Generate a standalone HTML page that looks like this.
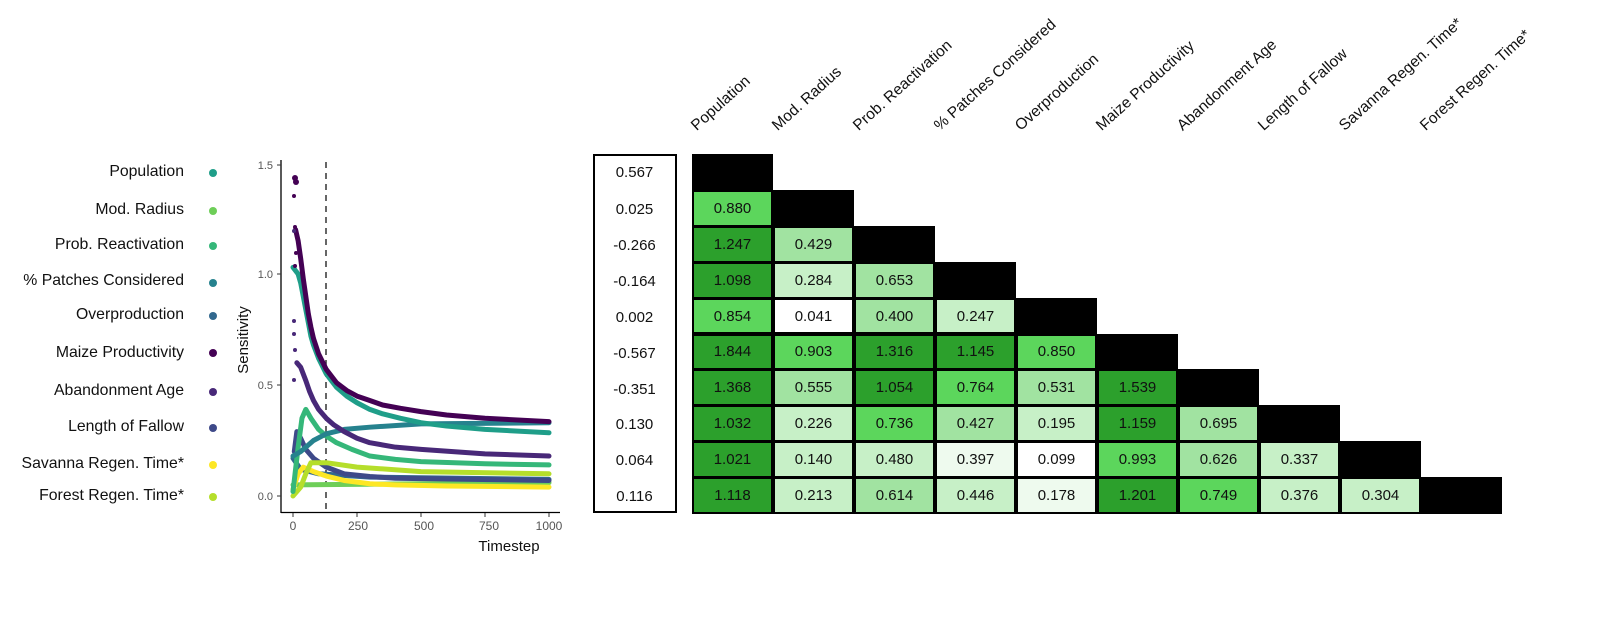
<!DOCTYPE html>
<html><head><meta charset="utf-8"><style>
body{margin:0;width:1619px;height:629px;background:#fff;position:relative;overflow:hidden;font-family:"Liberation Sans",sans-serif}
.lg{position:absolute;right:1435px;font-size:15.8px;color:#111;text-align:right;white-space:nowrap}
.c{position:absolute;font-size:15px;color:#111;display:flex;align-items:center;justify-content:center}
.b{position:absolute;background:#000}
.h{position:absolute;font-size:15.5px;color:#111;transform-origin:0 100%;transform:rotate(-42deg);white-space:nowrap}
.v{position:absolute;left:595px;width:79px;text-align:center;font-size:15px;color:#111}
</style></head><body>
<div class="lg" style="top:163px">Population</div>
<div class="lg" style="top:201px">Mod. Radius</div>
<div class="lg" style="top:236px">Prob. Reactivation</div>
<div class="lg" style="top:272px">% Patches Considered</div>
<div class="lg" style="top:306px">Overproduction</div>
<div class="lg" style="top:344px">Maize Productivity</div>
<div class="lg" style="top:382px">Abandonment Age</div>
<div class="lg" style="top:418px">Length of Fallow</div>
<div class="lg" style="top:455px">Savanna Regen. Time*</div>
<div class="lg" style="top:487px">Forest Regen. Time*</div>
<svg width="600" height="629" style="position:absolute;left:0;top:0" font-family="Liberation Sans, sans-serif">
<g>
<circle cx="213" cy="173" r="4" fill="#1f9e89"/><circle cx="213" cy="211" r="4" fill="#6ece58"/>
<circle cx="213" cy="246" r="4" fill="#35b779"/><circle cx="213" cy="283" r="4" fill="#26828e"/>
<circle cx="213" cy="316" r="4" fill="#31688e"/><circle cx="213" cy="353" r="4" fill="#440154"/>
<circle cx="213" cy="392" r="4" fill="#482878"/><circle cx="213" cy="428" r="4" fill="#3e4989"/>
<circle cx="213" cy="465" r="4" fill="#fde725"/><circle cx="213" cy="497" r="4" fill="#b5de2b"/>
</g>
<line x1="281" y1="160" x2="281" y2="513" stroke="#000" stroke-width="1.3"/>
<line x1="281" y1="512.5" x2="560" y2="512.5" stroke="#000" stroke-width="1.3"/>
<g font-size="11" fill="#555" text-anchor="end">
<text x="273" y="169">1.5</text><text x="273" y="278">1.0</text><text x="273" y="389">0.5</text><text x="273" y="500">0.0</text></g>
<g stroke="#333"><line x1="277" y1="165" x2="281" y2="165"/><line x1="277" y1="274" x2="281" y2="274"/><line x1="277" y1="385" x2="281" y2="385"/><line x1="277" y1="496" x2="281" y2="496"/>
<line x1="293" y1="513" x2="293" y2="517"/><line x1="357" y1="513" x2="357" y2="517"/><line x1="421" y1="513" x2="421" y2="517"/><line x1="485" y1="513" x2="485" y2="517"/><line x1="549" y1="513" x2="549" y2="517"/></g>
<g font-size="12" fill="#555" text-anchor="middle">
<text x="293" y="530">0</text><text x="358" y="530">250</text><text x="424" y="530">500</text><text x="489" y="530">750</text><text x="549" y="530">1000</text></g>
<text x="509" y="551" font-size="15" text-anchor="middle" fill="#111">Timestep</text>
<text transform="translate(248,340) rotate(-90)" font-size="15" text-anchor="middle" fill="#111">Sensitivity</text>
<line x1="326" y1="162" x2="326" y2="512" stroke="#333" stroke-width="1.5" stroke-dasharray="6,5"/>
<g transform="translate(293,496) scale(0.256,-222)" fill="none" stroke-width="5" stroke-linejoin="round" stroke-linecap="round">
<polyline vector-effect="non-scaling-stroke" stroke="#6ece58" points="0,0.05 1000,0.06"/>
<polyline vector-effect="non-scaling-stroke" stroke="#31688e" points="0,0.17 30,0.12 100,0.1 300,0.085 1000,0.075"/>
<polyline vector-effect="non-scaling-stroke" stroke="#fde725" points="0,0.03 20,0.1 40,0.13 80,0.11 130,0.09 200,0.07 300,0.055 400,0.05 600,0.045 1000,0.04"/>
<polyline vector-effect="non-scaling-stroke" stroke="#3e4989" points="5,0.2 15,0.29 30,0.26 50,0.21 80,0.17 130,0.13 200,0.1 300,0.088 400,0.08 1000,0.07"/>
<polyline vector-effect="non-scaling-stroke" stroke="#b5de2b" points="0,0 30,0.04 50,0.1 70,0.15 130,0.15 250,0.13 500,0.11 1000,0.1"/>
<polyline vector-effect="non-scaling-stroke" stroke="#35b779" points="0,0.02 20,0.22 35,0.35 50,0.39 70,0.35 100,0.3 130,0.27 170,0.24 230,0.21 300,0.18 400,0.165 500,0.155 750,0.145 1000,0.14"/>
<polyline vector-effect="non-scaling-stroke" stroke="#26828e" points="0,0.18 30,0.2 80,0.25 130,0.28 200,0.3 300,0.31 500,0.325 1000,0.33"/>
<polyline vector-effect="non-scaling-stroke" stroke="#482878" points="15,0.6 30,0.58 50,0.52 65,0.47 80,0.43 100,0.39 130,0.35 160,0.32 200,0.29 250,0.26 300,0.24 400,0.22 500,0.21 750,0.19 1000,0.18"/>
<polyline vector-effect="non-scaling-stroke" stroke="#1f9e89" points="0,1.03 20,1.0 30,0.96 40,0.9 50,0.84 60,0.78 70,0.72 80,0.68 100,0.62 130,0.55 170,0.49 210,0.45 250,0.42 300,0.39 350,0.37 420,0.35 500,0.33 600,0.315 750,0.30 1000,0.285"/>
<polyline vector-effect="non-scaling-stroke" stroke="#440154" points="10,1.2 20,1.15 30,1.07 40,0.98 50,0.9 60,0.82 70,0.76 80,0.71 100,0.64 130,0.57 170,0.51 210,0.475 250,0.45 300,0.43 350,0.41 420,0.395 500,0.38 600,0.365 750,0.35 1000,0.335"/>
</g>
<g fill="#440154"><circle cx="295" cy="178" r="3"/><circle cx="296" cy="182" r="3"/><circle cx="294" cy="196" r="2"/><circle cx="295" cy="227" r="2"/><circle cx="296" cy="253" r="2"/><circle cx="295" cy="266" r="2"/></g>
<g fill="#482878"><circle cx="294" cy="231" r="2"/><circle cx="294" cy="321" r="2"/><circle cx="294" cy="334" r="2"/><circle cx="295" cy="350" r="2"/><circle cx="294" cy="380" r="2"/></g>
</svg>
<div style="position:absolute;left:593px;top:154px;width:80px;height:355px;border:2px solid #000"></div>
<div class="v" style="top:164px">0.567</div><div class="v" style="top:201px">0.025</div><div class="v" style="top:237px">-0.266</div><div class="v" style="top:273px">-0.164</div><div class="v" style="top:309px">0.002</div><div class="v" style="top:345px">-0.567</div><div class="v" style="top:381px">-0.351</div><div class="v" style="top:416px">0.130</div><div class="v" style="top:452px">0.064</div><div class="v" style="top:488px">0.116</div>
<div id="hm"></div>
<div class="h" style="left:700px;top:117px">Population</div>
<div class="h" style="left:781px;top:117px">Mod. Radius</div>
<div class="h" style="left:862px;top:117px">Prob. Reactivation</div>
<div class="h" style="left:943px;top:117px">% Patches Considered</div>
<div class="h" style="left:1024px;top:117px">Overproduction</div>
<div class="h" style="left:1105px;top:117px">Maize Productivity</div>
<div class="h" style="left:1186px;top:117px">Abandonment Age</div>
<div class="h" style="left:1267px;top:117px">Length of Fallow</div>
<div class="h" style="left:1348px;top:117px">Savanna Regen. Time*</div>
<div class="h" style="left:1429px;top:117px">Forest Regen. Time*</div>
<script>
var D='#2ca02c',M='#5cd65c',L='#a1e3a1',P='#c7f0c7',V='#eefaee',W='#ffffff';
var rows=[[],
[['0.880',M]],
[['1.247',D],['0.429',L]],
[['1.098',D],['0.284',P],['0.653',L]],
[['0.854',M],['0.041',W],['0.400',L],['0.247',P]],
[['1.844',D],['0.903',M],['1.316',D],['1.145',D],['0.850',M]],
[['1.368',D],['0.555',L],['1.054',D],['0.764',M],['0.531',L],['1.539',D]],
[['1.032',D],['0.226',P],['0.736',M],['0.427',L],['0.195',P],['1.159',D],['0.695',L]],
[['1.021',D],['0.140',P],['0.480',P],['0.397',V],['0.099',W],['0.993',M],['0.626',L],['0.337',P]],
[['1.118',D],['0.213',P],['0.614',L],['0.446',P],['0.178',V],['1.201',D],['0.749',M],['0.376',P],['0.304',P]]];
var h='',x0=692,w=81,y0=154,rh=35.9;
for(var r=0;r<10;r++){var y=y0+r*rh;
h+='<div class="b" style="left:'+x0+'px;top:'+y+'px;width:'+(w*(r+1))+'px;height:'+(rh+1)+'px"></div>';
for(var c=0;c<r;c++){h+='<div class="c" style="left:'+(x0+c*w+2)+'px;top:'+(y+2)+'px;width:'+(w-4)+'px;height:'+(rh-3)+'px;background:'+rows[r][c][1]+'">'+rows[r][c][0]+'</div>';}}
document.getElementById('hm').innerHTML=h;
</script>
</body></html>
